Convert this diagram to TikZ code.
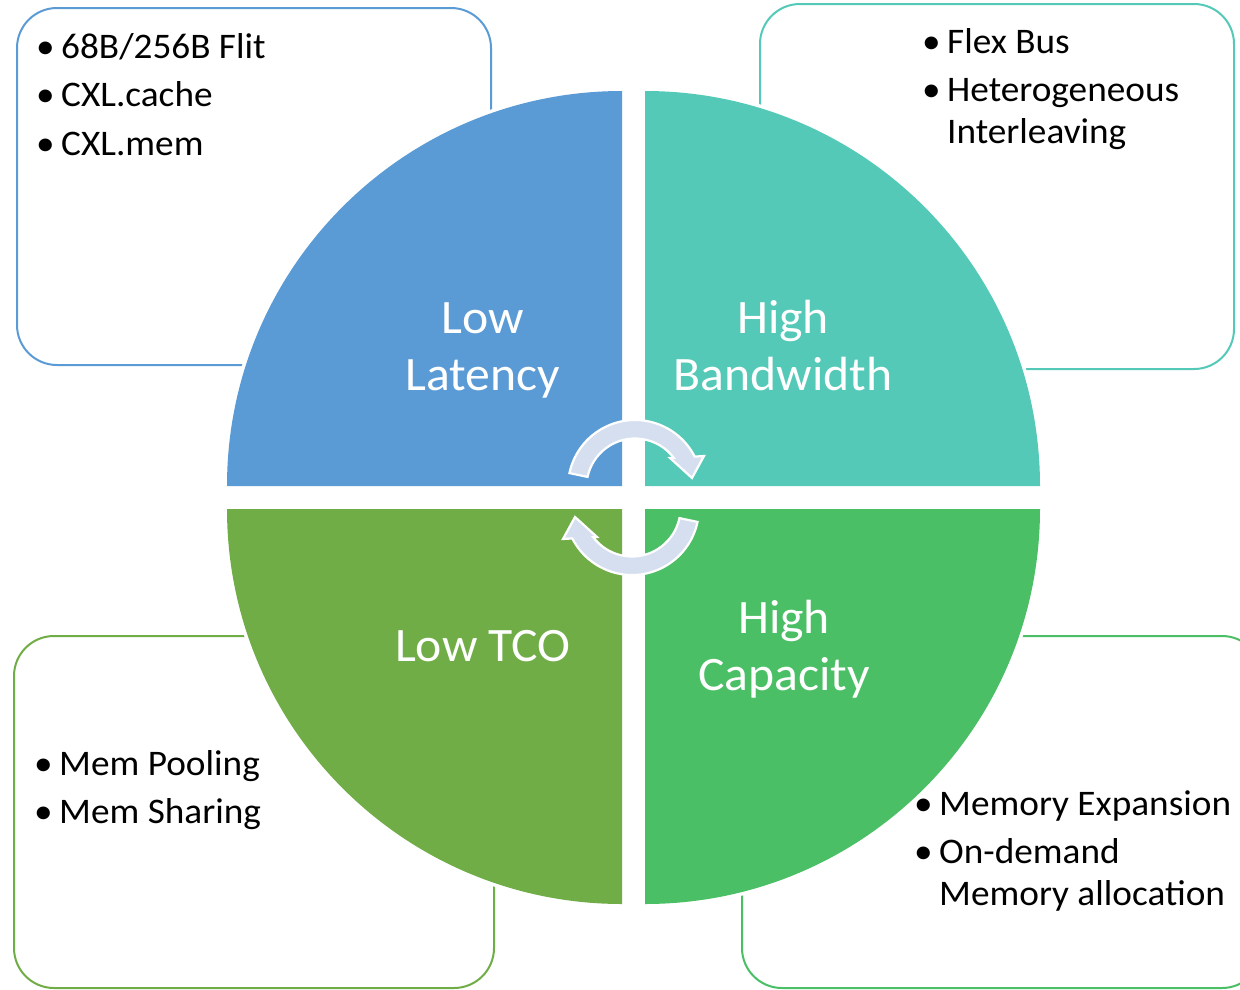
\documentclass[tikz,border=0pt]{standalone}
\usepackage{fontspec}
\setmainfont{Carlito}[FakeStretch=1.035]
\definecolor{qblue}{HTML}{5B9BD5}
\definecolor{qteal}{HTML}{54C9B7}
\definecolor{qolive}{HTML}{70AD47}
\definecolor{qgreen}{HTML}{4BBF65}
\definecolor{cyclefill}{HTML}{D5DFF0}
\begin{document}
\begin{tikzpicture}[x=1pt,y=-1pt,
  infobox/.style={draw=#1, line width=2pt, rounded corners=40pt},
  halo/.style={fill=white, draw=white, line width=7pt, line join=round},
  bul/.style={anchor=base west, inner sep=0pt, font=\fontsize{36}{43}\selectfont},
  itm/.style={anchor=base west, inner sep=0pt, font=\fontsize{36}{43}\selectfont},
  qlabel/.style={anchor=base, inner sep=0pt, text=white, font=\fontsize{48}{57}\selectfont},
  cyclearrow/.style={fill=cyclefill, draw=white, line width=2.2pt, line join=miter}]
\useasboundingbox (0,0) rectangle (1240,989);
\clip (0,0) rectangle (1240,989);

% outer text boxes
\draw[infobox=qblue]  (17,8)    rectangle (491,365);
\draw[infobox=qteal]  (760,4)   rectangle (1234,369);
\draw[infobox=qolive] (14,636)  rectangle (494,988);
\draw[infobox=qgreen] (742,636) rectangle (1262,988);

% four quarter discs, each with a white halo
\foreach \cx/\cy/\sa/\ea/\dx/\col in {622/486/180/90/-395/qblue, 645/486/0/90/395/qteal,
                                       622/509/180/270/-395/qolive, 645/509/0/-90/395/qgreen}{
  \path[halo] (\cx,\cy) -- ++(\dx pt,0pt) arc[start angle=\sa, end angle=\ea, radius=395pt] -- cycle;
  \fill[\col] (\cx,\cy) -- ++(\dx pt,0pt) arc[start angle=\sa, end angle=\ea, radius=395pt] -- cycle;
}

% circular arrows in the middle
\begin{scope}[shift={(635,487)}]
  \path[cyclearrow] (168:67pt) arc[start angle=168, end angle=27, radius=67pt]
    -- (69pt,31pt) -- (57pt,9pt) -- (35pt,29pt)
    -- (37:48.5pt) arc[start angle=37, end angle=168, radius=48.5pt] -- cycle;
\end{scope}
\begin{scope}[shift={(632,508)}, rotate=180]
  \path[cyclearrow] (168:67pt) arc[start angle=168, end angle=27, radius=67pt]
    -- (69pt,31pt) -- (57pt,9pt) -- (35pt,29pt)
    -- (37:48.5pt) arc[start angle=37, end angle=168, radius=48.5pt] -- cycle;
\end{scope}

% quadrant titles
\node[qlabel] (ll1) at (483,333) {Low};
\node[qlabel] (ll2) at (483,390) {Latency};
\node[qlabel] (hb1) at (783,333) {High};
\node[qlabel] (hb2) at (783,390) {Bandwidth};
\node[qlabel] (tco) at (483,661) {Low TCO};
\node[qlabel] (hc1) at (784,633) {High};
\node[qlabel] (hc2) at (784,690) {Capacity};

% bullet lists
\node[bul] (b1) at (36,58)    {•}; \node[itm] (t1) at (61,58)    {68B/256B Flit};
\node[bul] (b2) at (36,106.5) {•}; \node[itm] (t2) at (61,106.5) {CXL.cache};
\node[bul] (b3) at (36,155)   {•}; \node[itm] (t3) at (61,155)   {CXL.mem};

\node[bul] (b4) at (922,53)  {•}; \node[itm] (t4) at (947,53)  {Flex Bus};
\node[bul] (b5) at (922,101) {•}; \node[itm] (t5) at (947,101) {Heterogeneous};
                                  \node[itm] (t6) at (947,143.5) {Interleaving};

\node[bul] (b7) at (34,775) {•}; \node[itm] (t7) at (59,775) {Mem Pooling};
\node[bul] (b8) at (34,823) {•}; \node[itm] (t8) at (59,823) {Mem Sharing};

\node[bul] (b9)  at (914,815) {•}; \node[itm] (t9)  at (939,815) {Memory Expansion};
\node[bul] (b10) at (914,863) {•}; \node[itm] (t10) at (939,863) {On-demand};
                                   \node[itm] (t11) at (939,905) {Memory allocation};
\end{tikzpicture}
\end{document}
